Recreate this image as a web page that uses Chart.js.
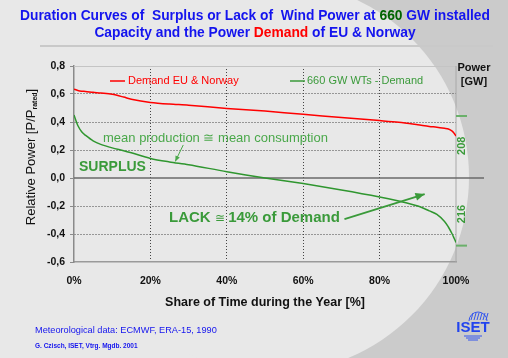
<!DOCTYPE html>
<html>
<head>
<meta charset="utf-8">
<script src="https://cdn.jsdelivr.net/npm/chart.js@4.4.0/dist/chart.umd.min.js"></script>
<style>
html, body { margin: 0; padding: 0; background: #e8e8e8; overflow: hidden; }
#sim_container { width: 508px; height: 358px; position: relative; }
</style>
</head>
<body>
<div id="sim_container"><canvas id="grafica" width="508" height="358"></canvas></div>
<script>
/* Datos */
const tiempo  = [0, 0.5, 1, 2, 3, 5, 7, 10, 13, 15, 20, 25, 30, 40, 50, 60, 70, 80, 85, 90, 93, 95, 97, 98, 99, 99.5, 100]; // % del año
const demanda = [0.635, 0.63, 0.625, 0.62, 0.618, 0.612, 0.607, 0.598, 0.578, 0.562, 0.54, 0.528, 0.52, 0.497, 0.478, 0.455, 0.432, 0.41, 0.398, 0.38, 0.368, 0.363, 0.355, 0.35, 0.335, 0.32, 0.30];
const eolica  = [0.45, 0.41, 0.375, 0.33, 0.305, 0.265, 0.24, 0.215, 0.195, 0.18, 0.14, 0.115, 0.095, 0.045, 0.0, -0.04, -0.085, -0.135, -0.165, -0.2, -0.235, -0.26, -0.31, -0.35, -0.40, -0.43, -0.46];
const etiquetasPotencia = ['208', '216'];   // eje derecho [GW]
const marcasPotencia = [0.443, -0.483];     // posiciones de las marcas verdes

const AZUL = '#1414ee';
const VERDE = '#3a9a3a';
const ROJO = '#ff0000';

// Fondo, título y textos del pie
const fondo = {
    id: 'fondo',
    beforeDraw(chart) {
        const ctx = chart.ctx;
        ctx.save();
        ctx.fillStyle = '#cbcbcb';
        ctx.fillRect(0, 0, 508, 358);
        ctx.fillStyle = '#e8e8e8';
        ctx.fillRect(0, 0, 274, 358);
        ctx.beginPath();
        ctx.arc(273, 177, 196, 0, Math.PI * 2);
        ctx.fill();

        // título en dos líneas con colores
        ctx.textBaseline = 'middle';
        ctx.font = 'bold 13.8px "Liberation Sans", Arial, sans-serif';
        const linea1 = [['Duration Curves of  Surplus or Lack of  Wind Power at ', AZUL], ['660', '#006400'], [' GW installed', AZUL]];
        const linea2 = [['Capacity and the Power ', AZUL], ['Demand', ROJO], [' of EU & Norway', AZUL]];
        [[linea1, 16], [linea2, 33]].forEach(([partes, y]) => {
            let total = partes.reduce((s, p) => s + ctx.measureText(p[0]).width, 0);
            let x = 255 - total / 2;
            partes.forEach(p => {
                ctx.fillStyle = p[1];
                ctx.textAlign = 'left';
                ctx.fillText(p[0], x, y);
                x += ctx.measureText(p[0]).width;
            });
        });

        // línea separadora
        ctx.strokeStyle = '#c9c9c9';
        ctx.lineWidth = 2;
        ctx.beginPath();
        ctx.moveTo(40, 46);
        ctx.lineTo(493, 46);
        ctx.stroke();

        // pie
        ctx.fillStyle = AZUL;
        ctx.textAlign = 'left';
        ctx.font = '9.2px "Liberation Sans", Arial, sans-serif';
        ctx.fillText('Meteorological data: ECMWF, ERA-15, 1990', 35, 330);
        ctx.font = 'bold 6.5px "Liberation Sans", Arial, sans-serif';
        ctx.fillText('G. Czisch, ISET, Vtrg. Mgdb. 2001', 35, 346);

        // logo ISET
        ctx.strokeStyle = '#3355ee';
        ctx.lineWidth = 1;
        ctx.beginPath();
        ctx.arc(478, 321, 9, Math.PI, 2 * Math.PI);
        ctx.stroke();
        for (let i = 0; i < 6; i++) {
            ctx.beginPath();
            ctx.moveTo(471 + i * 3, 320);
            ctx.lineTo(473 + i * 3, 313);
            ctx.stroke();
        }
        ctx.fillStyle = '#2244ee';
        ctx.font = 'bold 15px "Liberation Sans", Arial, sans-serif';
        ctx.textAlign = 'center';
        ctx.fillText('ISET', 473, 328);
        for (let i = 0; i < 3; i++) {
            ctx.beginPath();
            ctx.moveTo(464 + i * 2, 336 + i * 2);
            ctx.lineTo(482 - i * 2, 336 + i * 2);
            ctx.stroke();
        }
        ctx.restore();
    }
};

// Marco del área y línea del cero
const marco = {
    id: 'marco',
    beforeDatasetsDraw(chart) {
        const {ctx, chartArea: a, scales: {y}} = chart;
        ctx.save();
        ctx.strokeStyle = '#c4c4c4';
        ctx.lineWidth = 1;
        ctx.beginPath();
        ctx.moveTo(a.left, a.top + 0.5);
        ctx.lineTo(a.right, a.top + 0.5);
        ctx.stroke();
        ctx.strokeStyle = '#a8a8a8';
        ctx.beginPath();
        ctx.moveTo(a.right, a.top);
        ctx.lineTo(a.right, a.bottom);
        ctx.stroke();
        const y0 = y.getPixelForValue(0);
        ctx.strokeStyle = '#6a6a6a';
        ctx.lineWidth = 1.5;
        ctx.beginPath();
        ctx.moveTo(a.left, y0);
        ctx.lineTo(a.right + 28, y0);
        ctx.stroke();
        ctx.restore();
    }
};

function flecha(ctx, x1, y1, x2, y2, color, ancho, punta) {
    ctx.strokeStyle = color;
    ctx.fillStyle = color;
    ctx.lineWidth = ancho;
    ctx.beginPath();
    ctx.moveTo(x1, y1);
    ctx.lineTo(x2, y2);
    ctx.stroke();
    const ang = Math.atan2(y2 - y1, x2 - x1);
    ctx.beginPath();
    ctx.moveTo(x2, y2);
    ctx.lineTo(x2 - punta * Math.cos(ang - 0.4), y2 - punta * Math.sin(ang - 0.4));
    ctx.lineTo(x2 - punta * Math.cos(ang + 0.4), y2 - punta * Math.sin(ang + 0.4));
    ctx.closePath();
    ctx.fill();
}

// Leyenda, textos, flechas y eje derecho
const anotaciones = {
    id: 'anotaciones',
    afterDatasetsDraw(chart) {
        const {ctx, chartArea: a, scales: {x, y}} = chart;
        const fuente = '"Liberation Sans", Arial, sans-serif';
        ctx.save();
        ctx.textBaseline = 'middle';
        ctx.textAlign = 'left';

        // leyenda
        ctx.lineWidth = 1.5;
        ctx.strokeStyle = ROJO;
        ctx.beginPath(); ctx.moveTo(110, 81); ctx.lineTo(125, 81); ctx.stroke();
        ctx.fillStyle = ROJO;
        ctx.font = '11px ' + fuente;
        ctx.fillText('Demand EU & Norway', 128, 81);
        ctx.strokeStyle = VERDE;
        ctx.beginPath(); ctx.moveTo(290, 81); ctx.lineTo(305, 81); ctx.stroke();
        ctx.fillStyle = VERDE;
        ctx.fillText('660 GW WTs - Demand', 307, 81);

        // textos verdes
        ctx.fillStyle = '#4aa84a';
        ctx.font = '13px ' + fuente;
        ctx.fillText('mean production \u2245 mean consumption', 103, 138);
        flecha(ctx, x.getPixelForValue(28.6), y.getPixelForValue(0.236),
               x.getPixelForValue(26.5), y.getPixelForValue(0.118), '#4aa84a', 1, 6);

        ctx.fillStyle = VERDE;
        ctx.font = 'bold 14px ' + fuente;
        ctx.fillText('SURPLUS', 79, 167);

        ctx.font = 'bold 15px ' + fuente;
        ctx.fillText('LACK', 169, 218);
        let xl = 169 + ctx.measureText('LACK ').width;
        ctx.font = '12px ' + fuente;
        ctx.fillText('\u2245', xl, 219);
        xl += ctx.measureText('\u2245 ').width;
        ctx.font = 'bold 15px ' + fuente;
        ctx.fillText('14% of Demand', xl, 218);
        flecha(ctx, x.getPixelForValue(70.8), y.getPixelForValue(-0.293),
               x.getPixelForValue(91.8), y.getPixelForValue(-0.115), VERDE, 1.8, 10);

        // eje derecho: Power [GW]
        ctx.fillStyle = '#111';
        ctx.font = 'bold 11px ' + fuente;
        ctx.textAlign = 'center';
        ctx.fillText('Power', 474, 68);
        ctx.fillText('[GW]', 474, 82);
        ctx.strokeStyle = '#6ab06a';
        ctx.lineWidth = 2;
        marcasPotencia.forEach(v => {
            const py = y.getPixelForValue(v);
            ctx.beginPath(); ctx.moveTo(a.right, py); ctx.lineTo(a.right + 11, py); ctx.stroke();
        });
        ctx.fillStyle = VERDE;
        ctx.font = 'bold 11px ' + fuente;
        [[etiquetasPotencia[0], 0.23], [etiquetasPotencia[1], -0.257]].forEach(([t, v]) => {
            ctx.save();
            ctx.translate(a.right + 6, y.getPixelForValue(v));
            ctx.rotate(-Math.PI / 2);
            ctx.fillText(t, 0, 0);
            ctx.restore();
        });

        // título eje Y con subíndice
        ctx.save();
        ctx.translate(31, 157);
        ctx.rotate(-Math.PI / 2);
        ctx.fillStyle = '#111';
        ctx.textAlign = 'left';
        const p1 = 'Relative Power [P/P', p2 = 'rated', p3 = ']';
        ctx.font = '13px ' + fuente;
        const w1 = ctx.measureText(p1).width, w3 = ctx.measureText(p3).width;
        ctx.font = 'bold 7px ' + fuente;
        const w2 = ctx.measureText(p2).width;
        let px = -(w1 + w2 + w3) / 2;
        ctx.font = '13px ' + fuente;
        ctx.fillText(p1, px, 0);
        px += w1;
        ctx.font = 'bold 7px ' + fuente;
        ctx.fillText(p2, px, 4);
        px += w2;
        ctx.font = '13px ' + fuente;
        ctx.fillText(p3, px, 0);
        ctx.restore();

        ctx.restore();
    }
};

const esBorde = v => Math.abs(v) < 1e-9 || Math.abs(v - 0.8) < 1e-9 || Math.abs(v + 0.6) < 1e-9;

new Chart(document.getElementById('grafica'), {
    type: 'line',
    data: {
        datasets: [{
            label: 'Demand EU & Norway',
            data: tiempo.map((t, i) => ({x: t, y: demanda[i]})),
            borderColor: ROJO,
            borderWidth: 1.5,
            pointRadius: 0,
            tension: 0.3,
            fill: false
        }, {
            label: '660 GW WTs - Demand',
            data: tiempo.map((t, i) => ({x: t, y: eolica[i]})),
            borderColor: '#2f962f',
            borderWidth: 1.5,
            pointRadius: 0,
            tension: 0.3,
            fill: false
        }]
    },
    options: {
        responsive: false,
        animation: false,
        layout: { padding: { left: 0, top: 66, right: 52, bottom: 0 } },
        plugins: { legend: { display: false }, tooltip: { enabled: false } },
        scales: {
            x: {
                type: 'linear',
                min: 0,
                max: 100,
                afterFit(s) { s.height = 96; },
                ticks: {
                    stepSize: 20,
                    padding: 13,
                    color: '#111',
                    font: { family: '"Liberation Sans", Arial, sans-serif', size: 10.5, weight: 'bold' },
                    callback: v => v + '%'
                },
                grid: {
                    drawTicks: false,
                    color: c => (c.tick && (c.tick.value === 0 || c.tick.value === 100)) ? 'rgba(0,0,0,0)' : '#444',
                    lineWidth: 1
                },
                border: { display: true, color: '#9a9a9a', width: 1.5, dash: [1, 2] },
                title: {
                    display: true,
                    text: 'Share of Time during the Year [%]',
                    color: '#111',
                    font: { family: '"Liberation Sans", Arial, sans-serif', size: 12.5, weight: 'bold' },
                    padding: { top: 0, bottom: 48 }
                }
            },
            y: {
                min: -0.6,
                max: 0.8,
                afterFit(s) { s.width = 74; },
                ticks: {
                    stepSize: 0.2,
                    padding: 5,
                    color: '#111',
                    font: { family: '"Liberation Sans", Arial, sans-serif', size: 10.5, weight: 'bold' },
                    callback: v => v.toFixed(1).replace('.', ',').replace('-0,0', '0,0')
                },
                grid: {
                    drawTicks: true,
                    tickLength: 4,
                    tickColor: '#8a8a8a',
                    tickBorderDash: [],
                    color: c => (c.tick && esBorde(c.tick.value)) ? 'rgba(0,0,0,0)' : '#444',
                    lineWidth: 1
                },
                border: { display: true, color: '#8a8a8a', width: 1.5, dash: [1, 2] }
            }
        }
    },
    plugins: [fondo, marco, anotaciones]
});
</script>
</body>
</html>
